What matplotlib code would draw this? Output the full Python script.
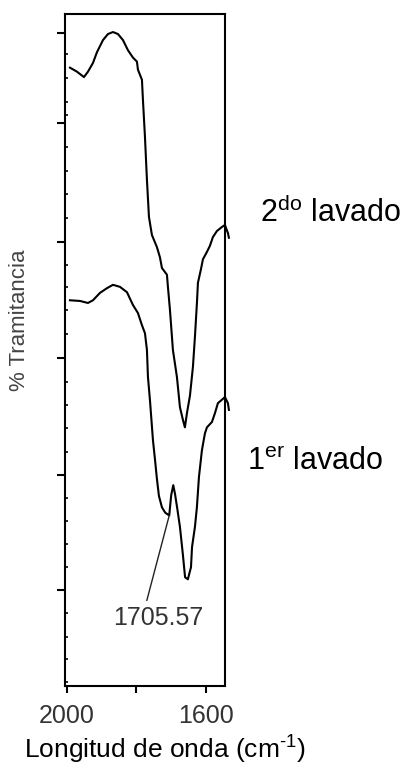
import matplotlib
matplotlib.use("Agg")
import matplotlib.pyplot as plt

plt.rcParams["font.family"] = ["Liberation Sans", "DejaVu Sans"]
plt.rcParams["mathtext.fontset"] = "custom"
plt.rcParams["mathtext.rm"] = "Liberation Sans"
plt.rcParams["mathtext.it"] = "Liberation Sans:italic"

# FTIR spectra, carbonyl region (wavenumber in cm-1, transmittance in %)
wn_2do = [1991.4, 1971.2, 1951.1, 1939.6, 1925.2, 1913.7, 1896.4, 1882.0, 1867.6,
          1853.2, 1838.8, 1824.5, 1810.1, 1798.6, 1795.7, 1784.2, 1781.3, 1775.5,
          1769.8, 1764.0, 1755.4, 1741.0, 1732.4, 1726.6, 1712.2, 1709.4, 1703.6,
          1695.0, 1683.5, 1674.8, 1666.2, 1660.5, 1654.7, 1646.0, 1637.4, 1631.6,
          1625.9, 1623.0, 1614.4, 1608.6, 1597.1, 1588.5, 1579.9, 1568.4, 1554.0,
          1545.3, 1536.7, 1533.8]
tr_2do = [92.0, 91.4, 90.6, 91.4, 92.7, 94.3, 96.1, 97.0, 97.3,
          97.0, 96.1, 94.6, 93.5, 92.9, 91.7, 90.2, 87.2, 81.7,
          75.3, 69.8, 67.1, 65.3, 63.8, 62.2, 61.2, 59.4, 56.0,
          50.0, 46.0, 41.5, 39.6, 38.5, 40.6, 43.2, 47.5, 52.0,
          57.0, 60.0, 62.0, 63.5, 64.6, 65.5, 66.8, 67.7, 68.3,
          68.6, 67.4, 66.7]

wn_1er = [1991.4, 1962.6, 1939.6, 1925.2, 1905.0, 1884.9, 1867.6, 1847.5, 1827.3,
          1810.1, 1795.7, 1784.2, 1775.5, 1769.8, 1766.9, 1761.2, 1752.5, 1746.8,
          1741.0, 1735.3, 1726.6, 1717.0, 1705.6, 1700.0, 1694.0, 1689.0, 1683.0,
          1674.8, 1666.2, 1660.0, 1652.0, 1643.0, 1640.0, 1631.6, 1626.0, 1620.1,
          1611.5, 1602.9, 1597.1, 1582.7, 1574.1, 1565.5, 1554.0, 1545.3, 1536.7,
          1533.8]
tr_1er = [57.4, 57.3, 57.0, 57.4, 58.5, 59.2, 59.7, 59.4, 58.6,
          56.7, 55.5, 53.7, 52.5, 50.0, 46.0, 42.6, 36.6, 33.8,
          30.8, 28.3, 26.6, 25.8, 25.4, 28.4, 29.9, 28.6, 26.6,
          23.7, 19.5, 16.2, 15.9, 17.7, 20.7, 23.7, 26.6, 31.1,
          35.1, 37.6, 38.5, 39.3, 40.6, 42.1, 42.6, 43.0, 42.1,
          41.1]

peak_wn = 1705.57
peak_tr = 25.4

x_ticks = [2000, 1800, 1600]
x_tick_labels = ["2000", "", "1600"]

y_major = [97.2, 83.8, 66.1, 48.8, 31.4, 14.3]
y_minor = [94.0, 90.5, 86.9, 85.0, 80.2, 76.6, 73.2, 69.6, 62.6, 59.4, 56.0, 52.4,
           45.2, 41.8, 38.4, 34.8, 28.0, 24.6, 21.1, 17.7, 10.9, 7.3, 4.0, 0.6]

fig = plt.figure(figsize=(4.06, 7.71), dpi=100)
ax = fig.add_axes([0.160, 0.110, 0.394, 0.872])

ax.plot(wn_2do, tr_2do, color="black", lw=1.5, clip_on=False)
ax.plot(wn_1er, tr_1er, color="black", lw=1.5, clip_on=False)

ax.set_xlim(2005.8, 1545.3)
ax.set_ylim(0, 100)

for sp in ax.spines.values():
    sp.set_linewidth(1.5)

ax.set_xticks(x_ticks)
ax.set_xticklabels(x_tick_labels)
ax.set_yticks(y_major)
ax.set_yticks(y_minor, minor=True)
ax.set_yticklabels([])
ax.tick_params(axis="x", direction="out", length=5, width=1.5, pad=8,
               labelsize=18, labelcolor="#333333")
ax.tick_params(axis="y", which="major", direction="out", length=6, width=1.5)
ax.tick_params(axis="y", which="minor", direction="in", length=2.5, width=1.2)

ax.annotate("1705.57", xy=(peak_wn, peak_tr), xytext=(1738, 9.1),
            ha="center", va="baseline", fontsize=18, color="#333333",
            arrowprops=dict(arrowstyle="-", color="#222222", lw=1.0,
                            relpos=(0.36, 1.0), shrinkA=2, shrinkB=0))

fig.text(0.640, 0.712, r"2$^{\rm do}$ lavado", fontsize=22, va="baseline", ha="left")
fig.text(0.608, 0.390, r"1$^{\rm er}$ lavado", fontsize=22, va="baseline", ha="left")

fig.text(0.047, 0.585, "% Tramitancia", rotation=90, fontsize=16,
         color="#444444", ha="center", va="center")
fig.text(0.406, 0.016, r"Longitud de onda (cm$^{\text{-1}}$)", fontsize=19,
         ha="center", va="baseline")

fig.savefig("out.png", dpi=100)
